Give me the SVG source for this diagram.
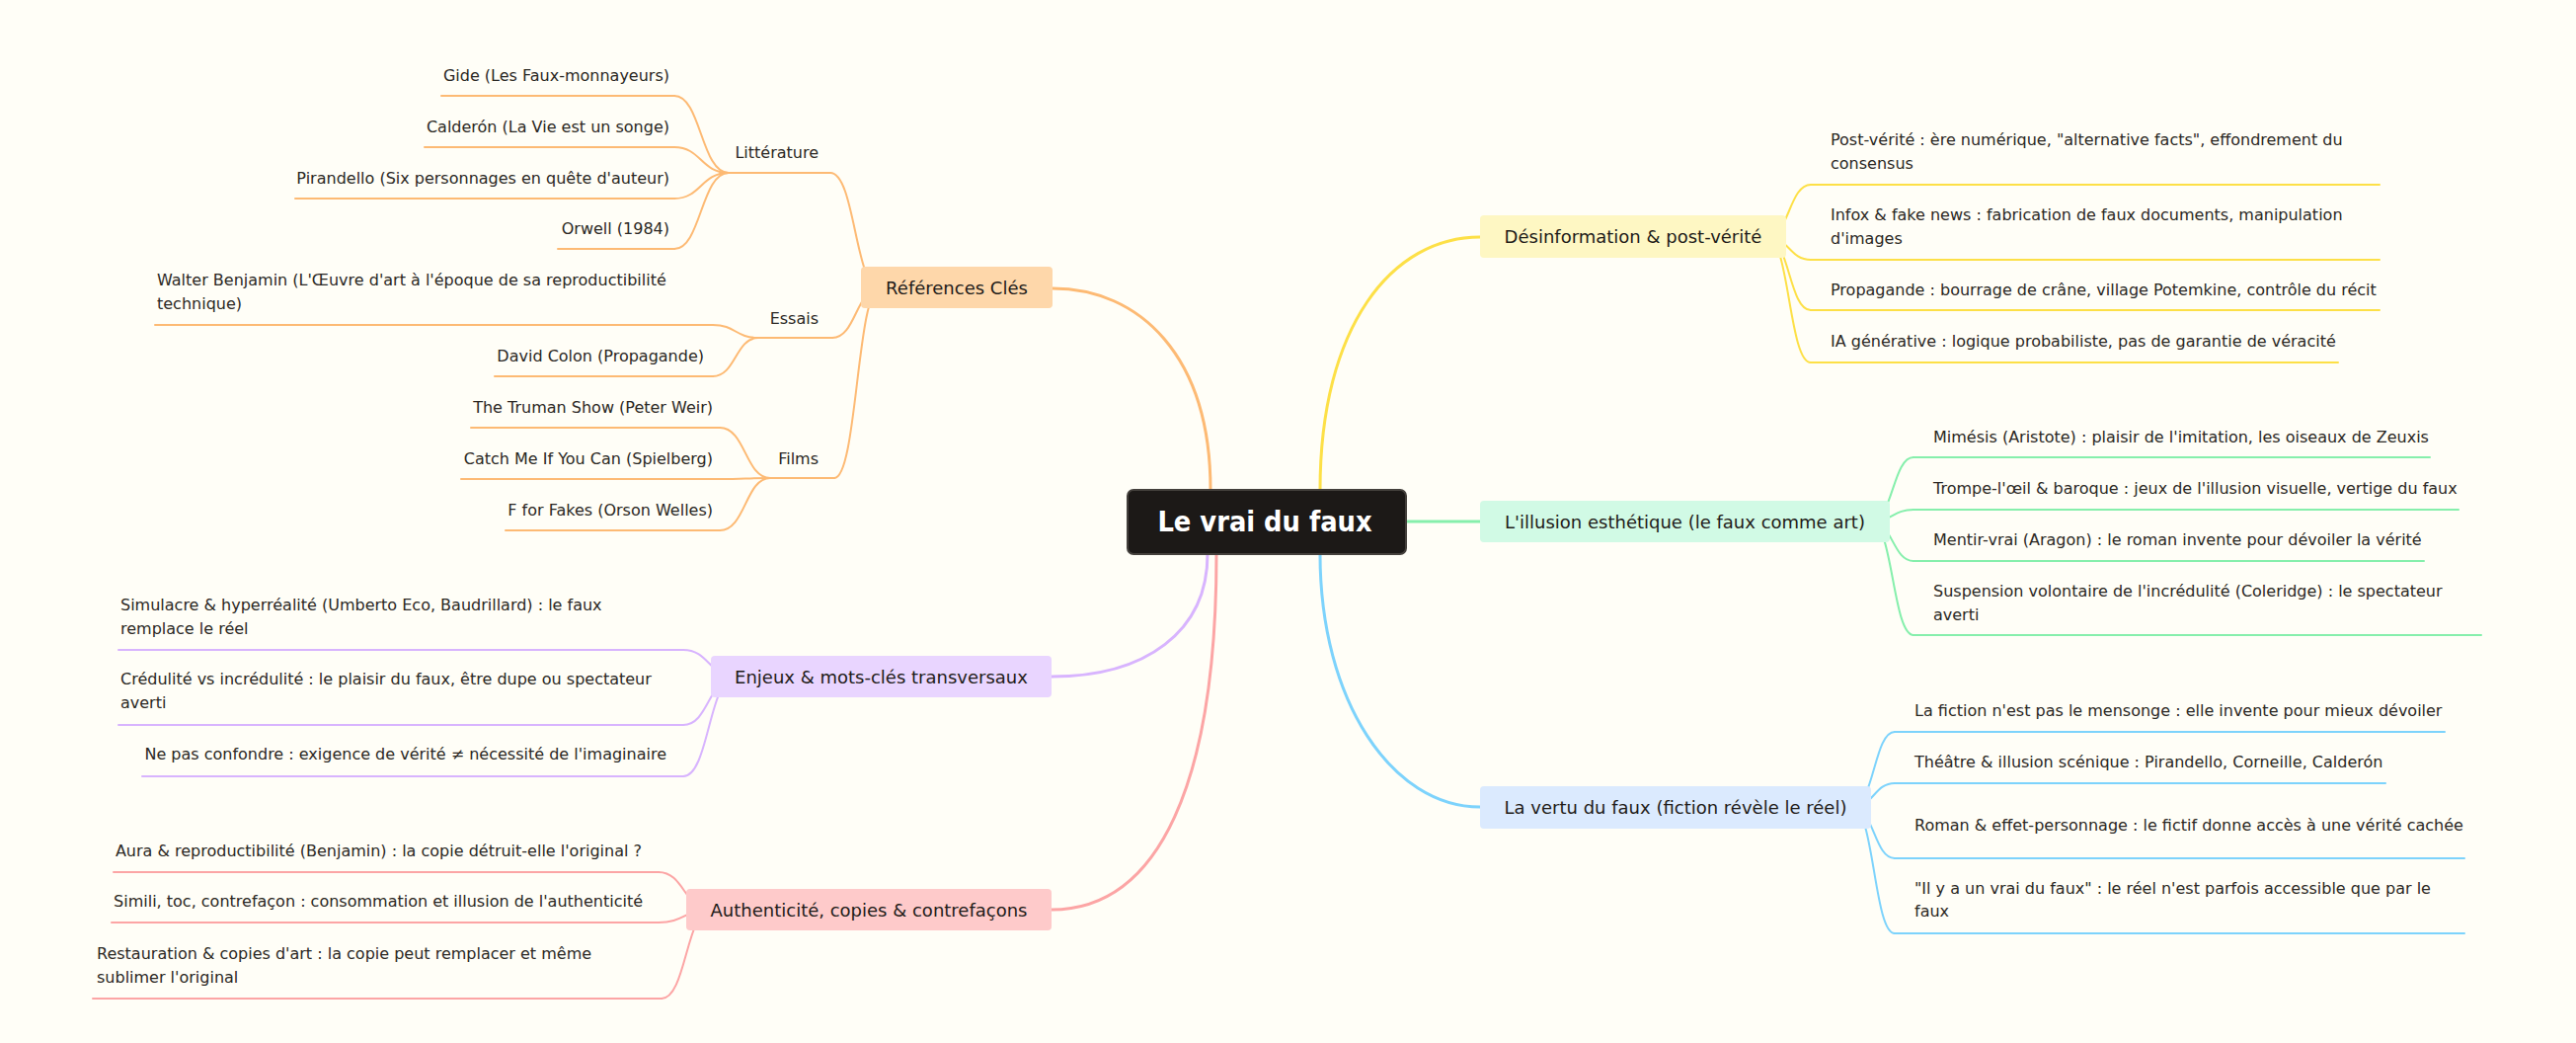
<svg xmlns="http://www.w3.org/2000/svg" width="2609" height="1056" viewBox="0 0 2609 1056">
<style>
  text { font-family: "DejaVu Sans", "Liberation Sans", sans-serif; fill: #2b2824; }
  .leaf { font-size: 16px; }
  .end { text-anchor: end; }
  .topic { font-size: 18px; text-anchor: middle; fill: #1f1c19; }
  .root { font-family: "DejaVu Sans Condensed", "DejaVu Sans", sans-serif; font-stretch: condensed; font-size: 28.7px; font-weight: bold; text-anchor: middle; fill: #ffffff; }
  .c { fill: none; stroke-linecap: round; }
  .main { stroke-width: 3; }
  .sub { stroke-width: 2; }
  .u { stroke-width: 2; fill: none; stroke-linecap: round; }
  .or { stroke: #fdba74; }
  .pu { stroke: #d8b4fe; }
  .pk { stroke: #fca5a5; }
  .ye { stroke: #fde047; }
  .gr { stroke: #86efac; }
  .bl { stroke: #7dd3fc; }
</style>
<rect x="0" y="0" width="2609" height="1056" fill="#fffef7"/>

<g id="connectors">
  <!-- root to topics -->
  <path class="c main or" d="M1226,496 C1226,360 1154,292 1066,292"/>
  <path class="c main pu" d="M1223,561 C1223,640 1160,685 1065,685"/>
  <path class="c main pk" d="M1232,561 C1232,790 1175,921 1065,921"/>
  <path class="c main ye" d="M1337,496 C1337,330 1410,240 1499,240"/>
  <path class="c main gr" d="M1424,528 H1499"/>
  <path class="c main bl" d="M1337,561 C1337,710 1410,817 1499,817"/>
  <!-- Références Clés -->
  <path class="c sub or" d="M891,292 C866,292 866,175 841,175"/>
  <path class="c sub or" d="M891,292 C867,292 867,342 843,342"/>
  <path class="c sub or" d="M891,292 C868,292 868,484 845,484"/>
  <path class="c sub or" d="M738,175 C710,175 710,97 683,97"/>
  <path class="c sub or" d="M738,175 C710,175 710,149 683,149"/>
  <path class="c sub or" d="M738,175 C710,175 710,201 683,201"/>
  <path class="c sub or" d="M738,175 C710,175 710,252 683,252"/>
  <path class="c sub or" d="M768,342 C745,342 745,329 722,329"/>
  <path class="c sub or" d="M768,342 C745,342 745,381 722,381"/>
  <path class="c sub or" d="M780,484 C755,484 755,433 729,433"/>
  <path class="c sub or" d="M780,484 C755,484 755,485 729,485"/>
  <path class="c sub or" d="M780,484 C755,484 755,537 729,537"/>
  <!-- Enjeux -->
  <path class="c sub pu" d="M745,685 C718,685 718,658 692,658"/>
  <path class="c sub pu" d="M745,685 C718,685 718,734 692,734"/>
  <path class="c sub pu" d="M745,685 C718,685 718,786 692,786"/>
  <!-- Authenticité -->
  <path class="c sub pk" d="M720,921 C693,921 693,883 667,883"/>
  <path class="c sub pk" d="M720,921 C693,921 693,934 667,934"/>
  <path class="c sub pk" d="M720,921 C695,921 695,1011 670,1011"/>
  <!-- Désinformation -->
  <path class="c sub ye" d="M1790,240 C1812,240 1812,187 1834,187"/>
  <path class="c sub ye" d="M1790,240 C1812,240 1812,263 1834,263"/>
  <path class="c sub ye" d="M1790,240 C1812,240 1812,314 1834,314"/>
  <path class="c sub ye" d="M1790,240 C1812,240 1812,367 1834,367"/>
  <!-- Illusion -->
  <path class="c sub gr" d="M1895,528 C1917,528 1917,463 1938,463"/>
  <path class="c sub gr" d="M1895,528 C1917,528 1917,516 1938,516"/>
  <path class="c sub gr" d="M1895,528 C1917,528 1917,568 1938,568"/>
  <path class="c sub gr" d="M1895,528 C1917,528 1917,643 1938,643"/>
  <!-- Vertu -->
  <path class="c sub bl" d="M1876,817 C1898,817 1898,741 1919,741"/>
  <path class="c sub bl" d="M1876,817 C1898,817 1898,793 1919,793"/>
  <path class="c sub bl" d="M1876,817 C1898,817 1898,869 1919,869"/>
  <path class="c sub bl" d="M1876,817 C1898,817 1898,945 1919,945"/>
</g>

<!-- Root -->
<g id="root">
  <rect x="1142" y="496" width="282" height="65" rx="6" fill="#1c1917" stroke="#44403c" stroke-width="2"/>
  <text class="root" x="1281" y="538">Le vrai du faux</text>
</g>

<!-- Topics -->
<g id="references-cles">
  <rect x="872" y="270" width="194" height="42" rx="4" fill="#fed7aa"/>
  <text class="topic" x="969" y="297.5">Références Clés</text>
</g>
<g id="enjeux">
  <rect x="720" y="664" width="345" height="42" rx="4" fill="#e9d5ff"/>
  <text class="topic" x="892.5" y="691.5">Enjeux &amp; mots-clés transversaux</text>
</g>
<g id="authenticite">
  <rect x="695" y="900" width="370" height="42" rx="4" fill="#fecaca"/>
  <text class="topic" x="880" y="927.5">Authenticité, copies &amp; contrefaçons</text>
</g>
<g id="desinformation">
  <rect x="1499" y="218" width="310" height="43" rx="4" fill="#fef7c3"/>
  <text class="topic" x="1654" y="246">Désinformation &amp; post-vérité</text>
</g>
<g id="illusion">
  <rect x="1499" y="507" width="415" height="42" rx="4" fill="#d1fae5"/>
  <text class="topic" x="1706.5" y="534.5">L'illusion esthétique (le faux comme art)</text>
</g>
<g id="vertu">
  <rect x="1499" y="796" width="396" height="43" rx="4" fill="#dbeafe"/>
  <text class="topic" x="1697" y="824">La vertu du faux (fiction révèle le réel)</text>
</g>

<!-- Références Clés sub-nodes -->
<g id="litterature">
  <text class="leaf end" x="829" y="160">Littérature</text>
  <line class="u or" x1="738" y1="175" x2="841" y2="175"/>
</g>
<g id="gide">
  <text class="leaf end" x="678" y="82">Gide (Les Faux-monnayeurs)</text>
  <line class="u or" x1="447" y1="97" x2="683" y2="97"/>
</g>
<g id="calderon">
  <text class="leaf end" x="678" y="134">Calderón (La Vie est un songe)</text>
  <line class="u or" x1="430" y1="149" x2="683" y2="149"/>
</g>
<g id="pirandello">
  <text class="leaf end" x="678" y="186">Pirandello (Six personnages en quête d'auteur)</text>
  <line class="u or" x1="299" y1="201" x2="683" y2="201"/>
</g>
<g id="orwell">
  <text class="leaf end" x="678" y="237">Orwell (1984)</text>
  <line class="u or" x1="565" y1="252" x2="683" y2="252"/>
</g>
<g id="essais">
  <text class="leaf end" x="829" y="328">Essais</text>
  <line class="u or" x1="768" y1="342" x2="843" y2="342"/>
</g>
<g id="benjamin">
  <text class="leaf" x="159" y="289">Walter Benjamin (L'Œuvre d'art à l'époque de sa reproductibilité<tspan x="159" y="313">technique)</tspan></text>
  <line class="u or" x1="157" y1="329" x2="722" y2="329"/>
</g>
<g id="colon">
  <text class="leaf end" x="713" y="366">David Colon (Propagande)</text>
  <line class="u or" x1="501" y1="381" x2="722" y2="381"/>
</g>
<g id="films">
  <text class="leaf end" x="829" y="470">Films</text>
  <line class="u or" x1="780" y1="484" x2="845" y2="484"/>
</g>
<g id="truman">
  <text class="leaf end" x="722" y="418">The Truman Show (Peter Weir)</text>
  <line class="u or" x1="477" y1="433" x2="729" y2="433"/>
</g>
<g id="catchme">
  <text class="leaf end" x="722" y="470">Catch Me If You Can (Spielberg)</text>
  <line class="u or" x1="467" y1="485" x2="729" y2="485"/>
</g>
<g id="fforfakes">
  <text class="leaf end" x="722" y="522">F for Fakes (Orson Welles)</text>
  <line class="u or" x1="512" y1="537" x2="729" y2="537"/>
</g>

<!-- Enjeux leaves -->
<g id="simulacre">
  <text class="leaf" x="122" y="618">Simulacre &amp; hyperréalité (Umberto Eco, Baudrillard) : le faux<tspan x="122" y="642">remplace le réel</tspan></text>
  <line class="u pu" x1="120" y1="658" x2="692" y2="658"/>
</g>
<g id="credulite">
  <text class="leaf" x="122" y="693">Crédulité vs incrédulité : le plaisir du faux, être dupe ou spectateur<tspan x="122" y="717">averti</tspan></text>
  <line class="u pu" x1="120" y1="734" x2="692" y2="734"/>
</g>
<g id="confondre">
  <text class="leaf end" x="675" y="769">Ne pas confondre : exigence de vérité ≠ nécessité de l'imaginaire</text>
  <line class="u pu" x1="144" y1="786" x2="692" y2="786"/>
</g>

<!-- Authenticité leaves -->
<g id="aura">
  <text class="leaf end" x="650" y="867">Aura &amp; reproductibilité (Benjamin) : la copie détruit-elle l'original ?</text>
  <line class="u pk" x1="115" y1="883" x2="667" y2="883"/>
</g>
<g id="simili">
  <text class="leaf end" x="651" y="918">Simili, toc, contrefaçon : consommation et illusion de l'authenticité</text>
  <line class="u pk" x1="113" y1="934" x2="667" y2="934"/>
</g>
<g id="restauration">
  <text class="leaf" x="98" y="971">Restauration &amp; copies d'art : la copie peut remplacer et même<tspan x="98" y="995">sublimer l'original</tspan></text>
  <line class="u pk" x1="94" y1="1011" x2="670" y2="1011"/>
</g>

<!-- Désinformation leaves -->
<g id="post-verite">
  <text class="leaf" x="1854" y="147">Post-vérité : ère numérique, "alternative facts", effondrement du<tspan x="1854" y="171">consensus</tspan></text>
  <line class="u ye" x1="1834" y1="187" x2="2410" y2="187"/>
</g>
<g id="infox">
  <text class="leaf" x="1854" y="223">Infox &amp; fake news : fabrication de faux documents, manipulation<tspan x="1854" y="247">d'images</tspan></text>
  <line class="u ye" x1="1834" y1="263" x2="2410" y2="263"/>
</g>
<g id="propagande">
  <text class="leaf" x="1854" y="299">Propagande : bourrage de crâne, village Potemkine, contrôle du récit</text>
  <line class="u ye" x1="1834" y1="314" x2="2410" y2="314"/>
</g>
<g id="ia">
  <text class="leaf" x="1854" y="351">IA générative : logique probabiliste, pas de garantie de véracité</text>
  <line class="u ye" x1="1834" y1="367" x2="2368" y2="367"/>
</g>

<!-- Illusion leaves -->
<g id="mimesis">
  <text class="leaf" x="1958" y="448">Mimésis (Aristote) : plaisir de l'imitation, les oiseaux de Zeuxis</text>
  <line class="u gr" x1="1938" y1="463" x2="2461" y2="463"/>
</g>
<g id="trompe-oeil">
  <text class="leaf" x="1958" y="500">Trompe-l'œil &amp; baroque : jeux de l'illusion visuelle, vertige du faux</text>
  <line class="u gr" x1="1938" y1="516" x2="2490" y2="516"/>
</g>
<g id="mentir-vrai">
  <text class="leaf" x="1958" y="552">Mentir-vrai (Aragon) : le roman invente pour dévoiler la vérité</text>
  <line class="u gr" x1="1938" y1="568" x2="2455" y2="568"/>
</g>
<g id="suspension">
  <text class="leaf" x="1958" y="604">Suspension volontaire de l'incrédulité (Coleridge) : le spectateur<tspan x="1958" y="628">averti</tspan></text>
  <line class="u gr" x1="1938" y1="643" x2="2513" y2="643"/>
</g>

<!-- Vertu leaves -->
<g id="fiction-mensonge">
  <text class="leaf" x="1939" y="725">La fiction n'est pas le mensonge : elle invente pour mieux dévoiler</text>
  <line class="u bl" x1="1919" y1="741" x2="2476" y2="741"/>
</g>
<g id="theatre">
  <text class="leaf" x="1939" y="777">Théâtre &amp; illusion scénique : Pirandello, Corneille, Calderón</text>
  <line class="u bl" x1="1919" y1="793" x2="2416" y2="793"/>
</g>
<g id="roman">
  <text class="leaf" x="1939" y="841">Roman &amp; effet-personnage : le fictif donne accès à une vérité cachée</text>
  <line class="u bl" x1="1919" y1="869" x2="2496" y2="869"/>
</g>
<g id="vrai-du-faux">
  <text class="leaf" x="1939" y="905">"Il y a un vrai du faux" : le réel n'est parfois accessible que par le<tspan x="1939" y="928">faux</tspan></text>
  <line class="u bl" x1="1919" y1="945" x2="2496" y2="945"/>
</g>
</svg>
